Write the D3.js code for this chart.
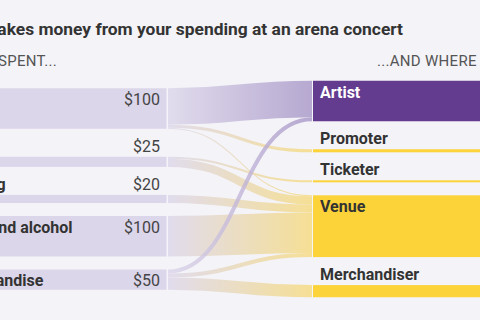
<!DOCTYPE html>
<html>
<head>
<meta charset="utf-8">
<script src="https://cdn.jsdelivr.net/npm/d3@7"></script>
<style>
body{margin:0;background:#f4f3f8;}
svg{display:block;font-family:Roboto,"Noto Sans",sans-serif;}
</style>
</head>
<body>
<div id="chart"></div>
<script>
const sources = ["Ticket", "Fees", "Parking", "Food and alcohol", "Merchandise"];
const spent = [100, 25, 20, 100, 50];
const targets = ["Artist", "Promoter", "Ticketer", "Venue", "Merchandiser"];
// flows: source index -> target index, dollars
const flowFrom  = [0,  0,   0,   1, 1,  2,  3,   4,  4,  4];
const flowTo    = [0,  1,   3,   2, 3,  3,  3,   0,  3,  4];
const flowValue = [90, 7.5, 2.5, 5, 20, 20, 100, 10, 10, 30];

const width = 480, height = 320;
const leftEdge = 168, rightEdge = 312;
const midY = 189;
const pad = 13, labelSpace = 15, minInside = 16;

const purple = "#633c8f", yellow = "#fdd33a", lavender = "#dcd6ea";

const k = d3.scaleLinear().domain([0, 100]).range([0, 40.5]);

const targetValues = targets.map((t, i) =>
	d3.sum(flowValue.filter((v, j) => flowTo[j] === i)));

function stack(names, values){
	const nodes = names.map((name, i) => ({name, value: values[i], h: k(values[i])}));
	let y = 0;
	nodes.forEach((n, i) => {
		n.above = n.h < minInside;
		if(i > 0) y += pad + (n.above ? labelSpace : 0);
		n.y0 = y;
		n.y1 = y + n.h;
		y = n.y1;
	});
	const off = midY - y / 2;
	nodes.forEach(n => { n.y0 += off; n.y1 += off; n.sy = n.y0; n.ty = n.y0; });
	return nodes;
}

const leftNodes = stack(sources, spent);
const rightNodes = stack(targets, targetValues);

const links = flowValue.map((v, i) => ({s: flowFrom[i], t: flowTo[i], value: v, w: k(v)}));
// offsets at source, ordered by target
d3.sort(links, d => d.s, d => d.t).forEach(l => {
	const n = leftNodes[l.s];
	l.y0 = n.sy + l.w / 2;
	n.sy += l.w;
});
// offsets at target, ordered by source
d3.sort(links, d => d.t, d => d.s).forEach(l => {
	const n = rightNodes[l.t];
	l.y1 = n.ty + l.w / 2;
	n.ty += l.w;
});

const svg = d3.select("#chart")
	.append("svg")
		.attr("width", width)
		.attr("height", height);

svg.append("rect")
	.attr("width", width)
	.attr("height", height)
	.attr("fill", "#f4f3f8");

// Title and column heads
svg.append("text")
	.attr("x", 403)
	.attr("y", 35)
	.attr("text-anchor", "end")
	.attr("font-size", 17.4)
	.attr("font-weight", 700)
	.attr("fill", "#333")
	.text("Who makes money from your spending at an arena concert");

svg.append("text")
	.attr("x", 57)
	.attr("y", 66)
	.attr("text-anchor", "end")
	.attr("font-size", 15)
	.attr("letter-spacing", 0.3)
	.attr("fill", "#555")
	.text("WHAT YOU SPENT...");

svg.append("text")
	.attr("x", 377)
	.attr("y", 66)
	.attr("font-size", 15)
	.attr("letter-spacing", 0.3)
	.attr("fill", "#555")
	.text("...AND WHERE IT GOES");

// Gradients for the flows
const defs = svg.append("defs");
links.forEach((l, i) => {
	const g = defs.append("linearGradient")
		.attr("id", "grad" + i)
		.attr("gradientUnits", "userSpaceOnUse")
		.attr("x1", leftEdge)
		.attr("x2", rightEdge);
	g.append("stop").attr("offset", "0%").attr("stop-color", lavender);
	g.append("stop").attr("offset", "100%").attr("stop-color", l.t === 0 ? "#a796c7" : "#f6da7c");
});

const xm = (leftEdge + rightEdge) / 2;
svg.append("g")
	.attr("fill", "none")
	.selectAll("path")
	.data(links)
	.join("path")
		.attr("d", d => `M${leftEdge},${d.y0}C${xm},${d.y0} ${xm},${d.y1} ${rightEdge},${d.y1}`)
		.attr("stroke", (d, i) => `url(#grad${i})`)
		.attr("stroke-width", d => d.w)
		.attr("stroke-opacity", 0.8);

// Left nodes
const left = svg.append("g")
	.selectAll("g")
	.data(leftNodes)
	.join("g");

left.append("rect")
	.attr("x", -100)
	.attr("y", d => d.y0)
	.attr("width", 100 + leftEdge - 1.5)
	.attr("height", d => d.h)
	.attr("fill", lavender);

left.append("text")
	.attr("x", -50)
	.attr("y", d => d.above ? d.y0 - 5 : d.y0 + 17)
	.attr("font-size", 16)
	.attr("font-weight", 700)
	.attr("fill", "#333")
	.text(d => d.name);

left.append("text")
	.attr("x", 160)
	.attr("y", d => d.above ? d.y0 - 5 : d.y0 + 17)
	.attr("text-anchor", "end")
	.attr("font-size", 16)
	.attr("fill", "#444")
	.text(d => "$" + d.value);

// Right nodes
const right = svg.append("g")
	.selectAll("g")
	.data(rightNodes)
	.join("g");

right.append("rect")
	.attr("x", rightEdge + 1)
	.attr("y", d => d.y0)
	.attr("width", 200)
	.attr("height", d => d.h)
	.attr("fill", (d, i) => i === 0 ? purple : yellow);

right.append("text")
	.attr("x", 320)
	.attr("y", d => d.above ? d.y0 - 5 : d.y0 + 17)
	.attr("font-size", 16)
	.attr("font-weight", 700)
	.attr("fill", (d, i) => i === 0 ? "#fff" : "#333")
	.text(d => d.name);
</script>
</body>
</html>
